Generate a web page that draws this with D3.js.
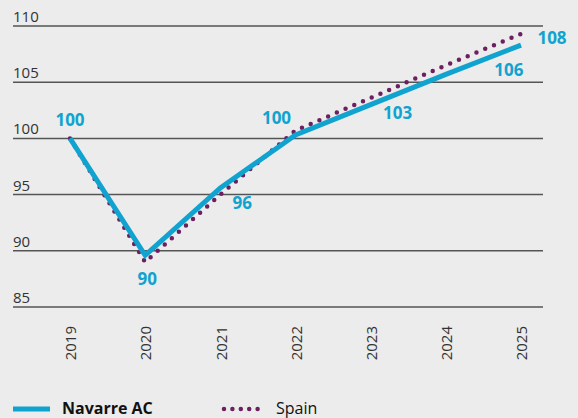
<!DOCTYPE html>
<html>
<head>
<meta charset="utf-8">
<script src="https://cdn.jsdelivr.net/npm/d3@7"></script>
<style>
  body { margin: 0; background: #ebeceb; }
  svg { display: block; font-family: "Open Sans", "Noto Sans", sans-serif; }
</style>
</head>
<body>
<div id="scene"></div>
<script>
var years = [2019, 2020, 2021, 2022, 2023, 2024, 2025];
var navarre = [100, 89.6, 95.6, 100.3, 103.0, 105.7, 108.3];
var spain = [100, 89.0, 95.0, 100.7, 103.6, 106.5, 109.3];
var navarreLabels = ["100", "90", "96", "100", "103", "106", "108"];
var yTicks = [85, 90, 95, 100, 105, 110];
var seriesNames = ["Navarre AC", "Spain"];

var ctx = {
  w: 578,
  h: 418,
  left: 13,
  right: 543,
  blue: "#10a3d0",
  purple: "#6d1f60",
  grid: "#555555"
};

// label offsets from each point (dx, dy)
var labelOffsets = [[0, -12], [2, 30], [22, 21], [-19, -11], [27, 14], [63, 2], [31, -1]];

var svg = d3.select("#scene").append("svg")
  .attr("width", ctx.w)
  .attr("height", ctx.h);

var x = d3.scalePoint().domain(years).range([70, 521]);
var y = d3.scaleLinear().domain([85, 110]).range([307, 26]);

// gridlines + y labels
var yAxis = svg.append("g");
yAxis.selectAll("line")
  .data(yTicks)
  .enter()
  .append("line")
  .attr("x1", ctx.left)
  .attr("x2", ctx.right)
  .attr("y1", function(d) { return y(d); })
  .attr("y2", function(d) { return y(d); })
  .style("stroke", ctx.grid)
  .style("stroke-width", 1.5);

yAxis.selectAll("text")
  .data(yTicks)
  .enter()
  .append("text")
  .attr("x", ctx.left)
  .attr("y", function(d) { return y(d) - 4; })
  .style("font-size", "15px")
  .style("fill", "#333")
  .text(function(d) { return d; });

// x labels, rotated
svg.append("g").selectAll("text")
  .data(years)
  .enter()
  .append("text")
  .attr("transform", function(d) { return "translate(" + (x(d) + 1) + ",326) rotate(-90)"; })
  .attr("dy", "0.35em")
  .attr("text-anchor", "end")
  .style("font-size", "15px")
  .style("fill", "#333")
  .text(function(d) { return d; });

var line = d3.line()
  .x(function(d, i) { return x(years[i]); })
  .y(function(d) { return y(d); });

svg.append("path")
  .datum(spain)
  .attr("d", line)
  .style("fill", "none")
  .style("stroke", ctx.purple)
  .style("stroke-width", 4.5)
  .style("stroke-linecap", "round")
  .style("stroke-dasharray", "0,9.5");

svg.append("path")
  .datum(navarre)
  .attr("d", line)
  .style("fill", "none")
  .style("stroke", ctx.blue)
  .style("stroke-width", 5)
  .style("stroke-linejoin", "miter");

svg.append("g").selectAll("text")
  .data(navarre)
  .enter()
  .append("text")
  .attr("x", function(d, i) { return x(years[i]) + labelOffsets[i][0]; })
  .attr("y", function(d, i) { return y(d) + labelOffsets[i][1]; })
  .attr("text-anchor", "middle")
  .style("font-size", "17px")
  .style("font-weight", "bold")
  .style("fill", ctx.blue)
  .text(function(d, i) { return navarreLabels[i]; });

// legend
var legend = svg.append("g");
legend.append("line")
  .attr("x1", 13).attr("x2", 50)
  .attr("y1", 409).attr("y2", 409)
  .style("stroke", ctx.blue)
  .style("stroke-width", 5);
legend.append("text")
  .attr("x", 62).attr("y", 414)
  .style("font-size", "16px")
  .style("font-weight", "bold")
  .style("fill", "#111")
  .text(seriesNames[0]);
legend.append("line")
  .attr("x1", 224).attr("x2", 266)
  .attr("y1", 409).attr("y2", 409)
  .style("stroke", ctx.purple)
  .style("stroke-width", 4.5)
  .style("stroke-linecap", "round")
  .style("stroke-dasharray", "0,8.4");
legend.append("text")
  .attr("x", 276).attr("y", 414)
  .style("font-size", "16px")
  .style("fill", "#111")
  .text(seriesNames[1]);
</script>
</body>
</html>
